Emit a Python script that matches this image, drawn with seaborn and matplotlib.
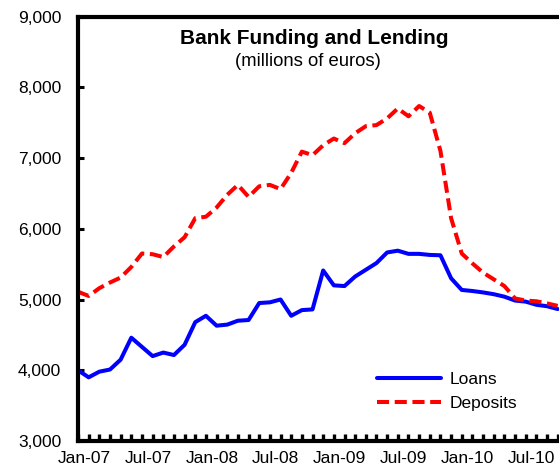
import matplotlib
matplotlib.use("Agg")
import matplotlib.pyplot as plt
import matplotlib.transforms as mtransforms
from matplotlib.ticker import FixedLocator, FuncFormatter
import numpy as np
import pandas as pd
import seaborn as sns

# Monthly series, Jan-2007 .. Oct-2010 (millions of euros)
months = pd.date_range("2007-01-01", periods=46, freq="MS")
month_labels = [d.strftime("%b-%y") for d in months]

loans = [4000, 3900, 3980, 4010, 4150, 4460, 4330, 4200, 4250, 4215,
         4360, 4680, 4770, 4630, 4645, 4700, 4710, 4950, 4960, 5000,
         4770, 4850, 4860, 5410, 5200, 5190, 5325, 5420, 5515, 5665,
         5690, 5645, 5645, 5630, 5625, 5300, 5135, 5120, 5100, 5075,
         5040, 4985, 4970, 4925, 4905, 4865]

deposits = [5110, 5050, 5160, 5240, 5310, 5460, 5650, 5640, 5600, 5750,
            5880, 6150, 6170, 6300, 6480, 6620, 6450, 6600, 6620, 6560,
            6790, 7090, 7040, 7180, 7275, 7210, 7350, 7450, 7465, 7560,
            7700, 7590, 7735, 7640, 7100, 6150, 5650, 5510, 5380, 5285,
            5190, 5015, 4985, 4975, 4945, 4910]

title = "Bank Funding and Lending"
subtitle = "(millions of euros)"

sns.set_style("white")
plt.rcParams["font.family"] = ["Liberation Sans", "DejaVu Sans"]
plt.rcParams["text.color"] = "black"

W, H, DPI = 559, 472, 100
fig = plt.figure(figsize=(W / DPI, H / DPI), dpi=DPI)

px_per_month = 10.66
x_max = 48
ax_left, ax_top, ax_bottom = 78, 16.5, 441
ax = fig.add_axes([ax_left / W, (H - ax_bottom) / H,
                   x_max * px_per_month / W, (ax_bottom - ax_top) / H])

df = pd.DataFrame({
    "t": np.arange(len(months)),
    "Loans": loans,
    "Deposits": deposits,
})

sns.lineplot(data=df, x="t", y="Loans", ax=ax, color="#0000FF",
             linewidth=2.9, label="Loans")
sns.lineplot(data=df, x="t", y="Deposits", ax=ax, color="#FF0000",
             linewidth=2.9, label="Deposits")
ax.lines[1].set_dashes((3.0, 1.4))
for ln in ax.lines:
    ln.set_solid_joinstyle("round")
    ln.set_dash_joinstyle("round")

ax.set_xlim(0, x_max)
ax.set_ylim(3000, 9000)
ax.set_xlabel("")
ax.set_ylabel("")

# y axis
ax.set_yticks(np.arange(3000, 9001, 1000))
ax.yaxis.set_major_formatter(FuncFormatter(lambda v, p: f"{int(v):,}"))
ax.tick_params(axis="y", left=True, direction="in", length=4.5, width=2.2,
               pad=12, labelsize=12.5, colors="black")

# x axis: a tick every month, labels every six months
all_ticks = list(range(x_max + 1))
ax.xaxis.set_major_locator(FixedLocator(all_ticks))
ax.set_xticklabels([month_labels[i] if (i < len(month_labels) and i % 6 == 0) else ""
                    for i in all_ticks])
ax.tick_params(axis="x", bottom=True, direction="in", length=5, width=2.4,
               pad=7, labelsize=12.5, colors="black")
shift = mtransforms.ScaledTranslation(6 / DPI, 0, fig.dpi_scale_trans)
for lab in ax.get_xticklabels():
    lab.set_transform(lab.get_transform() + shift)

for side in ["left", "bottom", "top"]:
    ax.spines[side].set_visible(True)
    ax.spines[side].set_linewidth(3.0)
    ax.spines[side].set_color("black")
ax.spines["right"].set_visible(False)
ax.grid(False)

fig.text(314 / W, 1 - 39 / H, title, ha="center", va="center",
         fontsize=15, fontweight="bold", color="black")
fig.text(307.5 / W, 1 - 62 / H, subtitle, ha="center", va="center",
         fontsize=13.3, color="black")

leg = ax.legend(loc="center left", bbox_to_anchor=(377 / W, 1 - 391.5 / H),
                bbox_transform=fig.transFigure, frameon=False,
                fontsize=12.5, handlelength=3.7, handletextpad=0.5,
                borderpad=0, borderaxespad=0, labelspacing=0.55)
for t in leg.get_texts():
    t.set_color("black")

fig.savefig("out.png", dpi=DPI)
